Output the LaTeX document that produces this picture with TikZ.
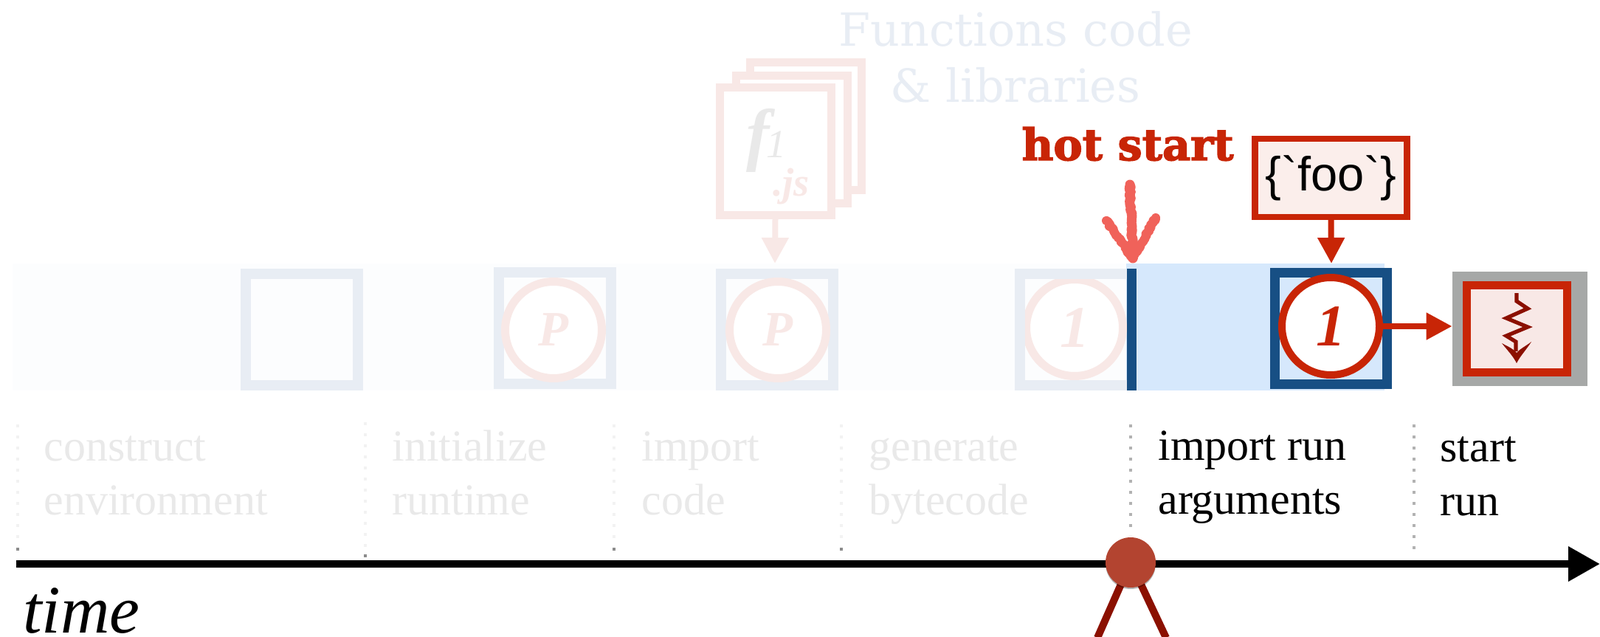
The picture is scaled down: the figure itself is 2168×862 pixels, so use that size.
\documentclass[tikz,border=0pt]{standalone}
\usepackage{fontspec}
\setmainfont{Liberation Serif}
\newfontfamily\argfont{Liberation Sans}
\newfontfamily\slabfont{DejaVu Serif}
\newfontfamily\hotfont[FakeBold=2.5]{DejaVu Serif Bold}
\usetikzlibrary{arrows.meta}
\usetikzlibrary{decorations.pathmorphing}
\usetikzlibrary{shadows}
\definecolor{fadeblue}{HTML}{E8EDF4}
\definecolor{fadered}{HTML}{F8E8E6}
\definecolor{fadetext}{HTML}{E9E9E9}
\definecolor{bandfade}{HTML}{FCFDFE}
\definecolor{bandlive}{HTML}{D6E8FC}
\definecolor{navy}{HTML}{174F84}
\definecolor{hotred}{HTML}{C82506}
\definecolor{darkred}{HTML}{8B1000}
\definecolor{chalk}{HTML}{F0625A}
\definecolor{boxgrey}{HTML}{A6A8A7}
\definecolor{dotred}{HTML}{B34430}
\tikzset{l/.style={font=\fontsize{30}{36.5}\selectfont, anchor=base west, inner sep=0pt, align=left}}
\tikzset{fadebox/.style={draw=fadeblue, line width=7pt, minimum width=76pt, minimum height=75.5pt, inner sep=0pt}}
\tikzset{fadecirc/.style={circle, draw=fadered, fill=white, line width=5.5pt, minimum size=65.5pt, inner sep=0pt, text=fadered}}
\tikzset{page/.style={draw=fadered, fill=white, line width=5.5pt, minimum width=75.5pt, minimum height=86.5pt, inner sep=0pt}}
\tikzset{tip/.style={-{Triangle[length=17.5pt,width=17.5pt]}, line width=4pt}}
\tikzset{dots/.style={line width=2pt, dash pattern=on 2pt off 5.5pt}}

\begin{document}
\begin{tikzpicture}[x=.5pt, y=-.5pt]
  \useasboundingbox (0,0) rectangle (2168,862);
  \fill[bandfade] (17,357) rectangle (1527,529);
  \fill[bandlive] (1526,357) rectangle (1876,529);
  \node (libs) at (1376,138) [anchor=base, inner sep=0pt, text=fadeblue, font=\slabfont\fontsize{31}{38}\selectfont, align=center] {Functions code\\\& libraries};
  \node (back) at (1091.5,170.5) [page] {};
  \node (mid) at (1072.5,189) [page] {};
  \node (front) at (1050.5,204.5) [page] {};
  \node (fname) at (1027,190) [text=fadetext, inner sep=0pt, font=\fontsize{47}{47}\selectfont\bfseries\itshape] {f};
  \node (fnum) at (1052,196) [text=fadetext, inner sep=0pt, font=\fontsize{27}{27}\selectfont\itshape] {1};
  \node (fext) at (1047,265) [anchor=base west, text=fadered, inner sep=0pt, font=\fontsize{27}{27}\selectfont\bfseries\itshape] {.js};
  \node (empty) at (408.5,446.5) [fadebox] {};
  \node (rtbox) at (752,444.5) [fadebox] {};
  \node (rt) at (750,447) [fadecirc, font=\fontsize{33.5}{33.5}\selectfont\bfseries\itshape] {P};
  \node (codebox) at (1053,446.5) [fadebox] {};
  \node (code) at (1054,447) [fadecirc, font=\fontsize{33.5}{33.5}\selectfont\bfseries\itshape] {P};
  \node (byte) at (1456,444) [fadecirc, font=\fontsize{40}{40}\selectfont\itshape] {\textbf{1}};
  \node (bytebox) at (1457.5,446.5) [fadebox] {};
  \node (bar) at (1533.5,446.5) [fill=navy, minimum width=6.5pt, minimum height=82.5pt, inner sep=0pt] {};
  \node (livebox) at (1803.5,445) [draw=navy, line width=6.5pt, minimum width=76pt, minimum height=75.5pt, inner sep=0pt] {};
  \coordinate (filein) at (1050,357);
  \draw[tip, draw=fadered, fill=fadered] (front.south) -- (filein);
  \node (args) at (1803.5,241) [draw=hotred, fill=hotred!8, line width=4.2pt, minimum width=103pt, minimum height=53pt, inner sep=0pt, font=\argfont\fontsize{32.5}{32.5}\selectfont] {\{\symbol{96}foo\symbol{96}\}};
  \coordinate (argsin) at (1804,357);
  \draw[tip, draw=hotred, fill=hotred] (args.south) -- (argsin);
  \node (live) at (1803,442) [circle, draw=hotred, fill=white, line width=5pt, minimum size=66pt, inner sep=0pt, text=hotred, font=\fontsize{40}{40}\selectfont\bfseries\itshape] {1};
  \node (sandbox) at (2059.5,445.5) [fill=boxgrey, minimum width=91.5pt, minimum height=77.5pt, inner sep=0pt] {};
  \node (proc) at (2055.5,445.5) [draw=hotred, fill=fadered, line width=5.5pt, minimum width=68pt, minimum height=59pt, inner sep=0pt] {};
  \draw[tip, draw=hotred, fill=hotred] (live.east) -- (live.east -| sandbox.west);
  \coordinate (proctop) at (2055,397);
  \coordinate (proclow) at (2054,476);
  \draw[darkred, line width=2.6pt] (proctop) -- (2055,408) -- (2070,418) -- (2041,431) -- (2070,443) -- (2041,455) -- (2054,463) -- (proclow);
  \fill[darkred] (2035,465) .. controls (2044,470) and (2050,472) .. (2055,478) .. controls (2060,472) and (2066,470) .. (2075,463) .. controls (2068,474) and (2060,482) .. (2055,492) .. controls (2050,482) and (2042,474) .. (2035,465);
  \node (hot) at (1528,217) [anchor=base, inner sep=0pt, text=hotred, font=\hotfont\fontsize{29.5}{29.5}\selectfont] {hot start};
  \coordinate (hottop) at (1531,250);
  \coordinate (hottip) at (1535,350);
  \coordinate (hotleft) at (1499,299);
  \coordinate (hotright) at (1566,295);
  \begin{scope}[chalk, line cap=round, line join=round, decoration={random steps, segment length=1.2pt, amplitude=.7pt}]
    \draw[line width=6.5pt, decorate] (hottop) -- (hottip);
    \draw[line width=6pt, decorate] (hotleft) -- (hottip) -- (hotright);
  \end{scope}
  \node (construct) at (59,697) [l, text=fadetext] {construct\\environment};
  \node (initialize) at (531,697) [l, text=fadetext] {initialize\\runtime};
  \node (import) at (869,697) [l, text=fadetext] {import\\code};
  \node (generate) at (1177,697) [l, text=fadetext] {generate\\bytecode};
  \node (importrun) at (1569,696) [l] {import run\\arguments};
  \node (startrun) at (1951,698) [l] {start\\run};
  \draw[dots, draw=fadetext!60] (24,575) -- (24,740);
  \draw[dots, draw=fadetext!60] (495,572) -- (495,749);
  \draw[dots, draw=fadetext!60] (832,575) -- (832,740);
  \draw[dots, draw=fadetext!60] (1140,575) -- (1140,740);
  \draw[dots, draw=black!30] (1532,575) -- (1532,725);
  \draw[dots, draw=black!30] (1916,575) -- (1916,748);
  \fill[black!45] (22,742) rectangle (26,746);
  \fill[black!45] (493,751) rectangle (497,755);
  \fill[black!45] (830,742) rectangle (834,746);
  \fill[black!45] (1138,742) rectangle (1142,746);
  \coordinate (axisstart) at (22,764);
  \coordinate (axisend) at (2168,764);
  \draw[line width=5pt, -{Triangle[length=21.5pt,width=22.5pt]}] (axisstart) -- (axisend);
  \node (timelabel) at (31,857) [anchor=base west, inner sep=0pt, font=\fontsize{46}{46}\selectfont\itshape] {time};
  \coordinate (nowpt) at (1532,762);
  \coordinate (legleft) at (1487,864);
  \coordinate (legright) at (1580,864);
  \draw[darkred, line width=5pt] (nowpt) -- (legleft);
  \draw[darkred, line width=5pt] (nowpt) -- (legright);
  \node (now) at (nowpt) [circle, fill=dotred, minimum size=34pt, inner sep=0pt, general shadow={fill=black, opacity=.3, shadow xshift=0pt, shadow yshift=-1pt}] {};
\end{tikzpicture}
\end{document}
